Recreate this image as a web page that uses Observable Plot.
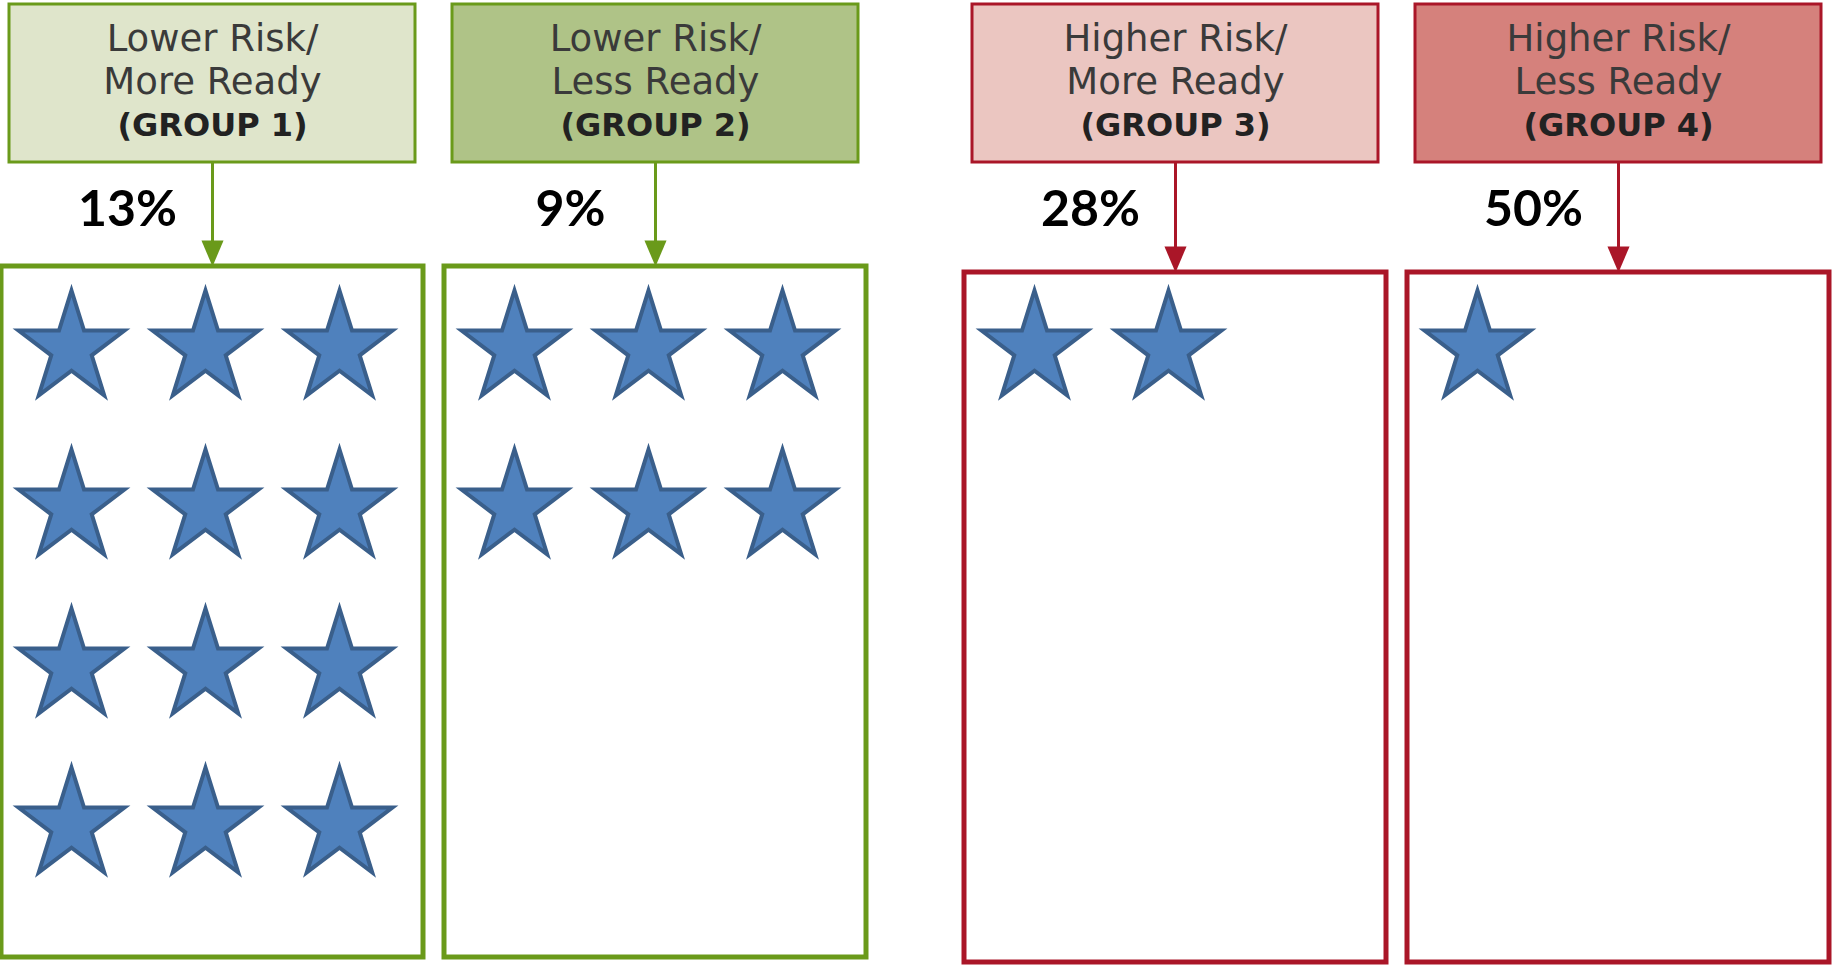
<!DOCTYPE html>
<html>
<head>
<meta charset="utf-8">
<script src="https://cdn.jsdelivr.net/npm/d3@7"></script>
<script src="https://cdn.jsdelivr.net/npm/@observablehq/plot@0.6"></script>
<style>
  html, body { margin: 0; padding: 0; background: #ffffff; }
  #chart svg { display: block; }
</style>
</head>
<body>
<div id="chart"></div>
<script>
// ---- data ----
const groupIds = [1, 2, 3, 4];
const riskLabels = ["Lower Risk/", "Lower Risk/", "Higher Risk/", "Higher Risk/"];
const readyLabels = ["More Ready", "Less Ready", "More Ready", "Less Ready"];
const groupLabels = ["(GROUP 1)", "(GROUP 2)", "(GROUP 3)", "(GROUP 4)"];
const percentLabels = ["13%", "9%", "28%", "50%"];
const starCounts = [12, 6, 2, 1];

// ---- styles ----
const headerFills = ["#dfe5cb", "#afc387", "#ebc6c1", "#d5817c"];
const lineColors = ["#6a9a1a", "#6a9a1a", "#aa1628", "#aa1628"];

// ---- layout ----
const W = 1833, H = 965;
const center = i => 212 + i * 443 + (i >= 2 ? 77 : 0);

const groups = groupIds.map((id, i) => ({
  i,
  c: center(i),
  high: i >= 2,
  risk: riskLabels[i],
  ready: readyLabels[i],
  label: groupLabels[i],
  pct: percentLabels[i],
  fill: headerFills[i],
  line: lineColors[i]
}));

const stars = [];
groups.forEach(g => {
  for (let k = 0; k < starCounts[g.i]; k++) {
    const col = k % 3, row = Math.floor(k / 3);
    stars.push({x: g.c - 211 + 70 + 134 * col, y: 348 + 159 * row});
  }
});

// custom five-point star (slightly narrow, like the Office shape); r = outer radius
const starShape = {
  draw(ctx, size) {
    const R = Math.sqrt(size / Math.PI), ri = R * 0.382, sx = 0.96;
    for (let k = 0; k < 10; k++) {
      const a = -Math.PI / 2 + k * Math.PI / 5;
      const rr = k % 2 ? ri : R;
      const px = Math.cos(a) * rr * sx, py = Math.sin(a) * rr;
      if (k === 0) ctx.moveTo(px, py); else ctx.lineTo(px, py);
    }
    ctx.closePath();
  }
};

// custom downward arrowhead, tip at the anchor point
const arrowHead = {
  draw(ctx, size) {
    const r = Math.sqrt(size / Math.PI);
    ctx.moveTo(0, 0);
    ctx.lineTo(-0.85 * r, -2 * r);
    ctx.lineTo(0.85 * r, -2 * r);
    ctx.closePath();
  }
};

const chart = Plot.plot({
  width: W,
  height: H,
  margin: 0,
  x: {domain: [0, W], range: [0, W], axis: null},
  y: {domain: [0, H], range: [0, H], axis: null},
  style: {background: "#ffffff"},
  marks: [
    // header boxes
    Plot.rect(groups, {
      x1: d => d.c - 203, x2: d => d.c + 203, y1: 4, y2: 162,
      fill: d => d.fill, stroke: d => d.line, strokeWidth: 3
    }),
    // header texts
    Plot.text(groups, {
      x: d => d.c, y: 39, text: d => d.risk, textAnchor: "middle", lineAnchor: "middle",
      fontFamily: "DejaVu Sans", fontSize: 37, fill: "#3a3a3a"
    }),
    Plot.text(groups, {
      x: d => d.c, y: 82, text: d => d.ready, textAnchor: "middle", lineAnchor: "middle",
      fontFamily: "DejaVu Sans", fontSize: 37, fill: "#3a3a3a"
    }),
    Plot.text(groups, {
      x: d => d.c, y: 125, text: d => d.label, textAnchor: "middle", lineAnchor: "middle",
      fontFamily: "DejaVu Sans", fontWeight: "bold", fontSize: 32, fill: "#222222"
    }),
    // connector lines
    Plot.ruleX(groups, {
      x: d => d.c, y1: 162, y2: d => (d.high ? 254 : 248), stroke: d => d.line, strokeWidth: 3
    }),
    // content boxes
    Plot.rect(groups, {
      x1: d => d.c - 211, x2: d => d.c + 211,
      y1: d => (d.high ? 272 : 266), y2: d => (d.high ? 962 : 957),
      fill: "none", stroke: d => d.line, strokeWidth: 5
    }),
    // arrowheads
    Plot.dot(groups, {
      x: d => d.c, y: d => (d.high ? 272 : 266), symbol: arrowHead, r: 13,
      fill: d => d.line, stroke: "none"
    }),
    // percentage labels
    Plot.text(groups, {
      x: d => d.c - 85, y: 209, text: d => d.pct, textAnchor: "middle", lineAnchor: "middle",
      fontFamily: "Lato", fontWeight: "bold", fontSize: 50, fill: "#000000"
    }),
    // stars
    Plot.dot(stars, {
      x: "x", y: "y", symbol: starShape, r: 58,
      fill: "#4f81bd", stroke: "#3a5f8b", strokeWidth: 4, strokeLinejoin: "miter"
    })
  ]
});

document.getElementById("chart").appendChild(chart);
</script>
</body>
</html>
